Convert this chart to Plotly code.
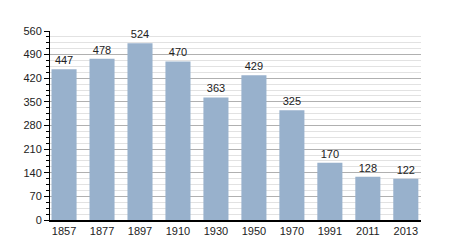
import plotly.graph_objects as go

years = ["1857", "1877", "1897", "1910", "1930", "1950", "1970", "1991", "2011", "2013"]
population = [447, 478, 524, 470, 363, 429, 325, 170, 128, 122]
y_ticks = [0, 70, 140, 210, 280, 350, 420, 490, 560]

fig = go.Figure(go.Bar(
    x=list(range(len(years))), y=population,
    marker=dict(color="#98b1cc", line=dict(width=0)),
    width=0.66,
    text=[str(v) for v in population], textposition="outside",
    textfont=dict(family="Liberation Sans, Arial", size=11, color="#222"),
    cliponaxis=False,
))

fig.update_layout(
    width=450, height=250,
    margin=dict(l=50, r=29, t=31, b=30),
    paper_bgcolor="white", plot_bgcolor="white",
    showlegend=False,
    font=dict(family="Liberation Sans, Arial", size=11, color="#222"),
    xaxis=dict(
        tickmode="array", tickvals=list(range(len(years))), ticktext=years,
        range=[-0.37, 9.4], showgrid=False, showline=True, linecolor="black",
        linewidth=1.5, ticks="", zeroline=False,
    ),
    yaxis=dict(
        range=[0, 560], tickvals=y_ticks, showline=True, linecolor="black",
        linewidth=1, ticks="outside", ticklen=5, tickcolor="black",
        gridcolor="#b0b0b0", gridwidth=1, zeroline=False,
        minor=dict(dtick=17.5, ticks="outside", ticklen=3, tickcolor="black",
                   showgrid=True, gridcolor="#e2e2e2", gridwidth=1),
        layer="below traces",
    ),
)

fig.write_html("out.html")
